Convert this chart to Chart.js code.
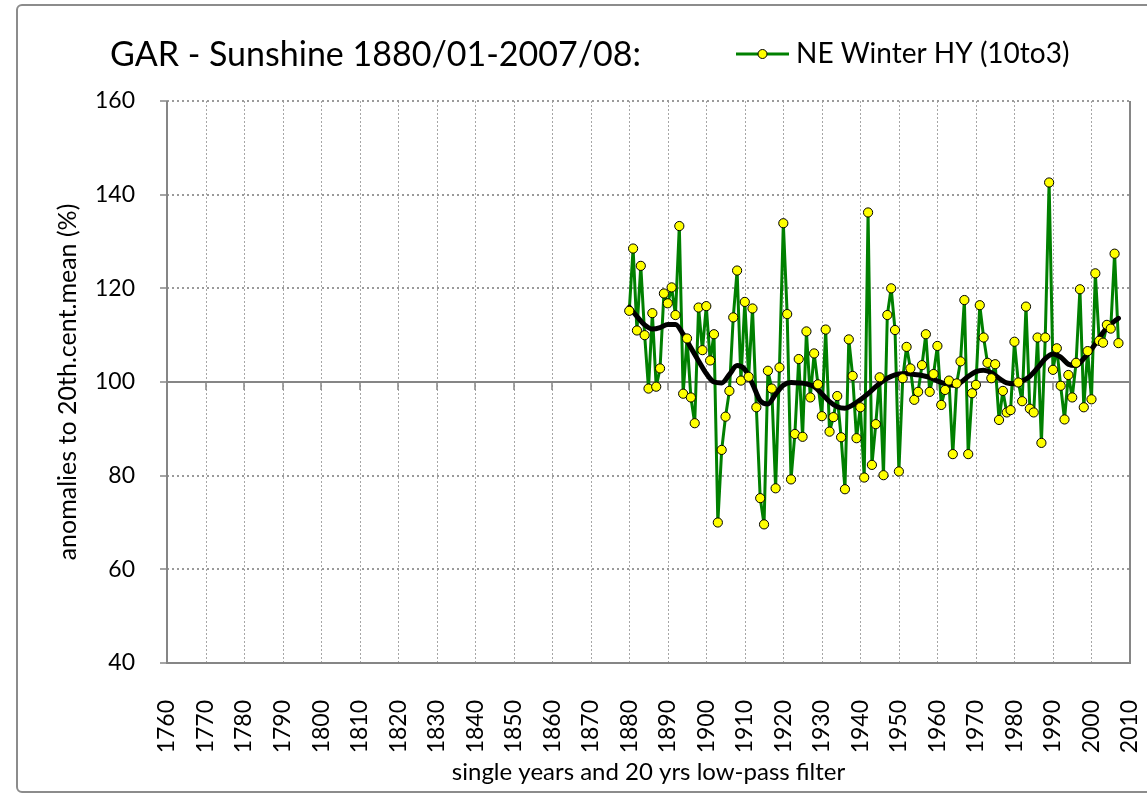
<!DOCTYPE html>
<html><head><meta charset="utf-8">
<script src="https://cdn.jsdelivr.net/npm/chart.js@4/dist/chart.umd.min.js"></script>
<style>html,body{margin:0;padding:0;background:#fff;overflow:hidden}#wrap{width:1147px;height:794px;position:relative}</style>
</head><body><div id="wrap"><canvas id="c" width="1147" height="794"></canvas></div>
<script>
const years = [
1880,1881,1882,1883,1884,1885,1886,1887,1888,1889,
1890,1891,1892,1893,1894,1895,1896,1897,1898,1899,
1900,1901,1902,1903,1904,1905,1906,1907,1908,1909,
1910,1911,1912,1913,1914,1915,1916,1917,1918,1919,
1920,1921,1922,1923,1924,1925,1926,1927,1928,1929,
1930,1931,1932,1933,1934,1935,1936,1937,1938,1939,
1940,1941,1942,1943,1944,1945,1946,1947,1948,1949,
1950,1951,1952,1953,1954,1955,1956,1957,1958,1959,
1960,1961,1962,1963,1964,1965,1966,1967,1968,1969,
1970,1971,1972,1973,1974,1975,1976,1977,1978,1979,
1980,1981,1982,1983,1984,1985,1986,1987,1988,1989,
1990,1991,1992,1993,1994,1995,1996,1997,1998,1999,
2000,2001,2002,2003,2004,2005,2006,2007];
const sunshine = [
115.2,128.5,111.0,124.8,110.0,98.6,114.7,99.0,102.9,118.9,
116.8,120.2,114.3,133.3,97.5,109.3,96.7,91.2,115.9,106.8,
116.2,104.6,110.2,70.0,85.5,92.6,98.1,113.8,123.8,100.3,
117.1,101.1,115.7,94.6,75.2,69.6,102.4,98.6,77.3,103.1,
133.9,114.5,79.2,88.9,104.9,88.3,110.8,96.7,106.1,99.5,
92.7,111.2,89.4,92.5,97.0,88.2,77.1,109.1,101.3,88.0,
94.6,79.6,136.2,82.3,91.0,101.0,80.1,114.3,120.0,111.1,
80.9,100.8,107.5,102.9,96.2,97.9,103.6,110.2,97.9,101.7,
107.7,95.1,98.3,100.3,84.6,99.7,104.4,117.5,84.6,97.6,
99.4,116.4,109.5,104.1,100.8,103.8,91.9,98.1,93.5,94.0,
108.6,99.9,95.9,116.1,94.3,93.5,109.5,87.0,109.5,142.6,
102.6,107.2,99.2,92.0,101.5,96.7,104.1,119.8,94.6,106.6,
96.3,123.2,108.8,108.4,112.2,111.4,127.4,108.3];
const filterYears = [1880,1882,1884,1886,1888,1890,1892,1894,1896,1898,
1900,1902,1904,1906,1908,1910,1912,1914,1916,1918,
1920,1922,1924,1926,1928,1930,1932,1934,1936,1938,
1940,1942,1944,1946,1948,1950,1952,1954,1956,1958,
1960,1962,1964,1966,1968,1970,1972,1974,1976,1978,
1980,1982,1984,1986,1988,1990,1992,1994,1996,1998,
2000,2002,2004,2006,2007];
const filterValues = [116.0,114.0,112.2,111.3,111.6,112.3,112.3,110.2,107.3,104.5,
101.8,100.0,99.8,101.6,103.5,102.7,99.6,96.0,95.3,97.4,
99.3,99.9,99.8,99.6,99.0,97.5,95.8,94.7,94.4,95.1,
96.2,97.5,99.0,100.3,101.2,101.7,101.8,101.6,101.4,101.0,
100.2,99.6,99.3,99.9,101.2,102.2,102.5,102.0,100.8,99.8,
99.6,100.2,101.2,103.0,105.0,106.0,105.3,103.8,103.5,105.0,
107.0,109.4,111.6,113.0,113.6];
const xTicks = [1760,1770,1780,1790,1800,1810,1820,1830,1840,1850,1860,1870,1880,1890,1900,1910,1920,1930,1940,1950,1960,1970,1980,1990,2000,2010];
const yTicks = [40,60,80,100,120,140,160];
const titleText = 'GAR - Sunshine 1880/01-2007/08:';
const legendText = 'NE Winter HY (10to3)';
const yTitle = 'anomalies to 20th.cent.mean (%)';
const xTitle = 'single years and 20 yrs low-pass filter';

const FONT = 'Lato, "Open Sans", sans-serif';
const AXIS = '#868686';
const GREEN = '#008000';

const rawPts = years.map((y, i) => ({x: y, y: sunshine[i]}));
const filtPts = filterYears.map((y, i) => ({x: y, y: filterValues[i]}));

const decor = {
  id: 'decor',
  beforeDraw(chart) {
    const ctx = chart.ctx;
    ctx.save();
    ctx.fillStyle = '#fff';
    ctx.fillRect(0, 0, chart.width, chart.height);
    ctx.strokeStyle = '#8c8c8c';
    ctx.lineWidth = 2;
    ctx.beginPath();
    ctx.moveTo(1160, 5);
    ctx.lineTo(22, 5);
    ctx.arcTo(17, 5, 17, 10, 5);
    ctx.lineTo(17, 787);
    ctx.arcTo(17, 792, 22, 792, 5);
    ctx.lineTo(1160, 792);
    ctx.stroke();
    ctx.restore();
  },
  beforeDatasetsDraw(chart) {
    const ctx = chart.ctx;
    const xs = chart.scales.x, ys = chart.scales.y;
    const L = chart.chartArea.left, R = chart.chartArea.right;
    const T = chart.chartArea.top, B = chart.chartArea.bottom;
    ctx.save();
    ctx.strokeStyle = '#a6a6a6';
    ctx.lineWidth = 1;
    ctx.setLineDash([2, 2]);
    xTicks.forEach(v => {
      if (v === xTicks[0] || v === xTicks[xTicks.length - 1]) return;
      const px = Math.round(xs.getPixelForValue(v)) + 0.5;
      ctx.beginPath(); ctx.moveTo(px, T); ctx.lineTo(px, B); ctx.stroke();
    });
    ctx.strokeStyle = '#9a9a9a';
    ctx.lineWidth = 2;
    ctx.setLineDash([2, 3]);
    yTicks.forEach(v => {
      if (v === 40 || v === 100) return;
      const py = Math.round(ys.getPixelForValue(v));
      ctx.beginPath(); ctx.moveTo(L, py); ctx.lineTo(R, py); ctx.stroke();
    });
    ctx.setLineDash([]);
    ctx.strokeStyle = AXIS;
    ctx.lineWidth = 2;
    const p100 = Math.round(ys.getPixelForValue(100));
    ctx.beginPath(); ctx.moveTo(L, p100); ctx.lineTo(R, p100); ctx.stroke();
    ctx.lineWidth = 1.5;
    xTicks.forEach(v => {
      const px = Math.round(xs.getPixelForValue(v));
      ctx.beginPath(); ctx.moveTo(px, p100); ctx.lineTo(px, p100 + 8); ctx.stroke();
    });
    ctx.lineWidth = 2;
    ctx.beginPath(); ctx.moveTo(L, B); ctx.lineTo(R, B); ctx.stroke();
    ctx.beginPath(); ctx.moveTo(R, T); ctx.lineTo(R, B + 1); ctx.stroke();
    ctx.beginPath(); ctx.moveTo(L, T); ctx.lineTo(L, B + 1); ctx.stroke();
    ctx.lineWidth = 1.5;
    yTicks.forEach(v => {
      const py = Math.round(ys.getPixelForValue(v));
      ctx.beginPath(); ctx.moveTo(L - 7, py); ctx.lineTo(L, py); ctx.stroke();
    });
    ctx.restore();
  },
  afterDraw(chart) {
    const ctx = chart.ctx;
    ctx.save();
    ctx.fillStyle = '#000';
    ctx.textBaseline = 'alphabetic';
    ctx.textAlign = 'left';
    ctx.font = '34px ' + FONT;
    ctx.fillText(titleText, 110, 66);
    ctx.strokeStyle = GREEN;
    ctx.lineWidth = 3;
    ctx.beginPath(); ctx.moveTo(736, 54); ctx.lineTo(789, 54); ctx.stroke();
    ctx.beginPath(); ctx.arc(762.5, 54, 4.5, 0, Math.PI * 2);
    ctx.fillStyle = '#ffff00'; ctx.fill();
    ctx.lineWidth = 1; ctx.strokeStyle = '#000'; ctx.stroke();
    ctx.fillStyle = '#000';
    ctx.font = '28px ' + FONT;
    ctx.fillText(legendText, 796, 63);
    ctx.restore();
  }
};

new Chart(document.getElementById('c'), {
  type: 'line',
  data: {
    datasets: [
      { label: 'line', data: rawPts, borderColor: GREEN, borderWidth: 3, borderJoinStyle: 'round', borderCapStyle: 'round', pointRadius: 0, tension: 0, order: 3 },
      { label: 'filter', data: filtPts, borderColor: '#000', borderWidth: 5, borderJoinStyle: 'round', borderCapStyle: 'round', pointRadius: 0, cubicInterpolationMode: 'monotone', order: 2 },
      { label: legendText, data: rawPts, showLine: false, pointRadius: 4.6, pointBackgroundColor: '#ffff00', pointBorderColor: '#000', pointBorderWidth: 1, order: 1 }
    ]
  },
  options: {
    responsive: false,
    animation: false,
    devicePixelRatio: 1,
    layout: { padding: { top: 101, right: 17, left: 0, bottom: 0 } },
    plugins: { legend: { display: false }, tooltip: { enabled: false }, title: { display: false } },
    scales: {
      x: {
        type: 'linear', min: 1760, max: 2010,
        afterBuildTicks: s => { s.ticks = xTicks.map(v => ({ value: v })); },
        afterFit: s => { s.height = 131; s.paddingLeft = 0; s.paddingRight = 0; },
        grid: { display: false }, border: { display: false },
        ticks: { autoSkip: false, minRotation: 90, maxRotation: 90, padding: 29, color: '#000',
          font: { family: FONT, size: 23 }, callback: v => String(v) },
        title: { display: true, text: xTitle, color: '#000', font: { family: FONT, size: 24 }, padding: { top: 0, bottom: 7 } }
      },
      y: {
        min: 40, max: 160,
        afterBuildTicks: s => { s.ticks = yTicks.map(v => ({ value: v })); },
        afterFit: s => { s.width = 167; s.paddingTop = 0; s.paddingBottom = 0; },
        grid: { display: false }, border: { display: false },
        ticks: { padding: 24, color: '#000', font: { family: FONT, size: 23 }, callback: v => String(v) },
        title: { display: true, text: yTitle, color: '#000', font: { family: FONT, size: 25 }, padding: { top: 53, bottom: 0 } }
      }
    }
  },
  plugins: [decor]
});
</script></body></html>
